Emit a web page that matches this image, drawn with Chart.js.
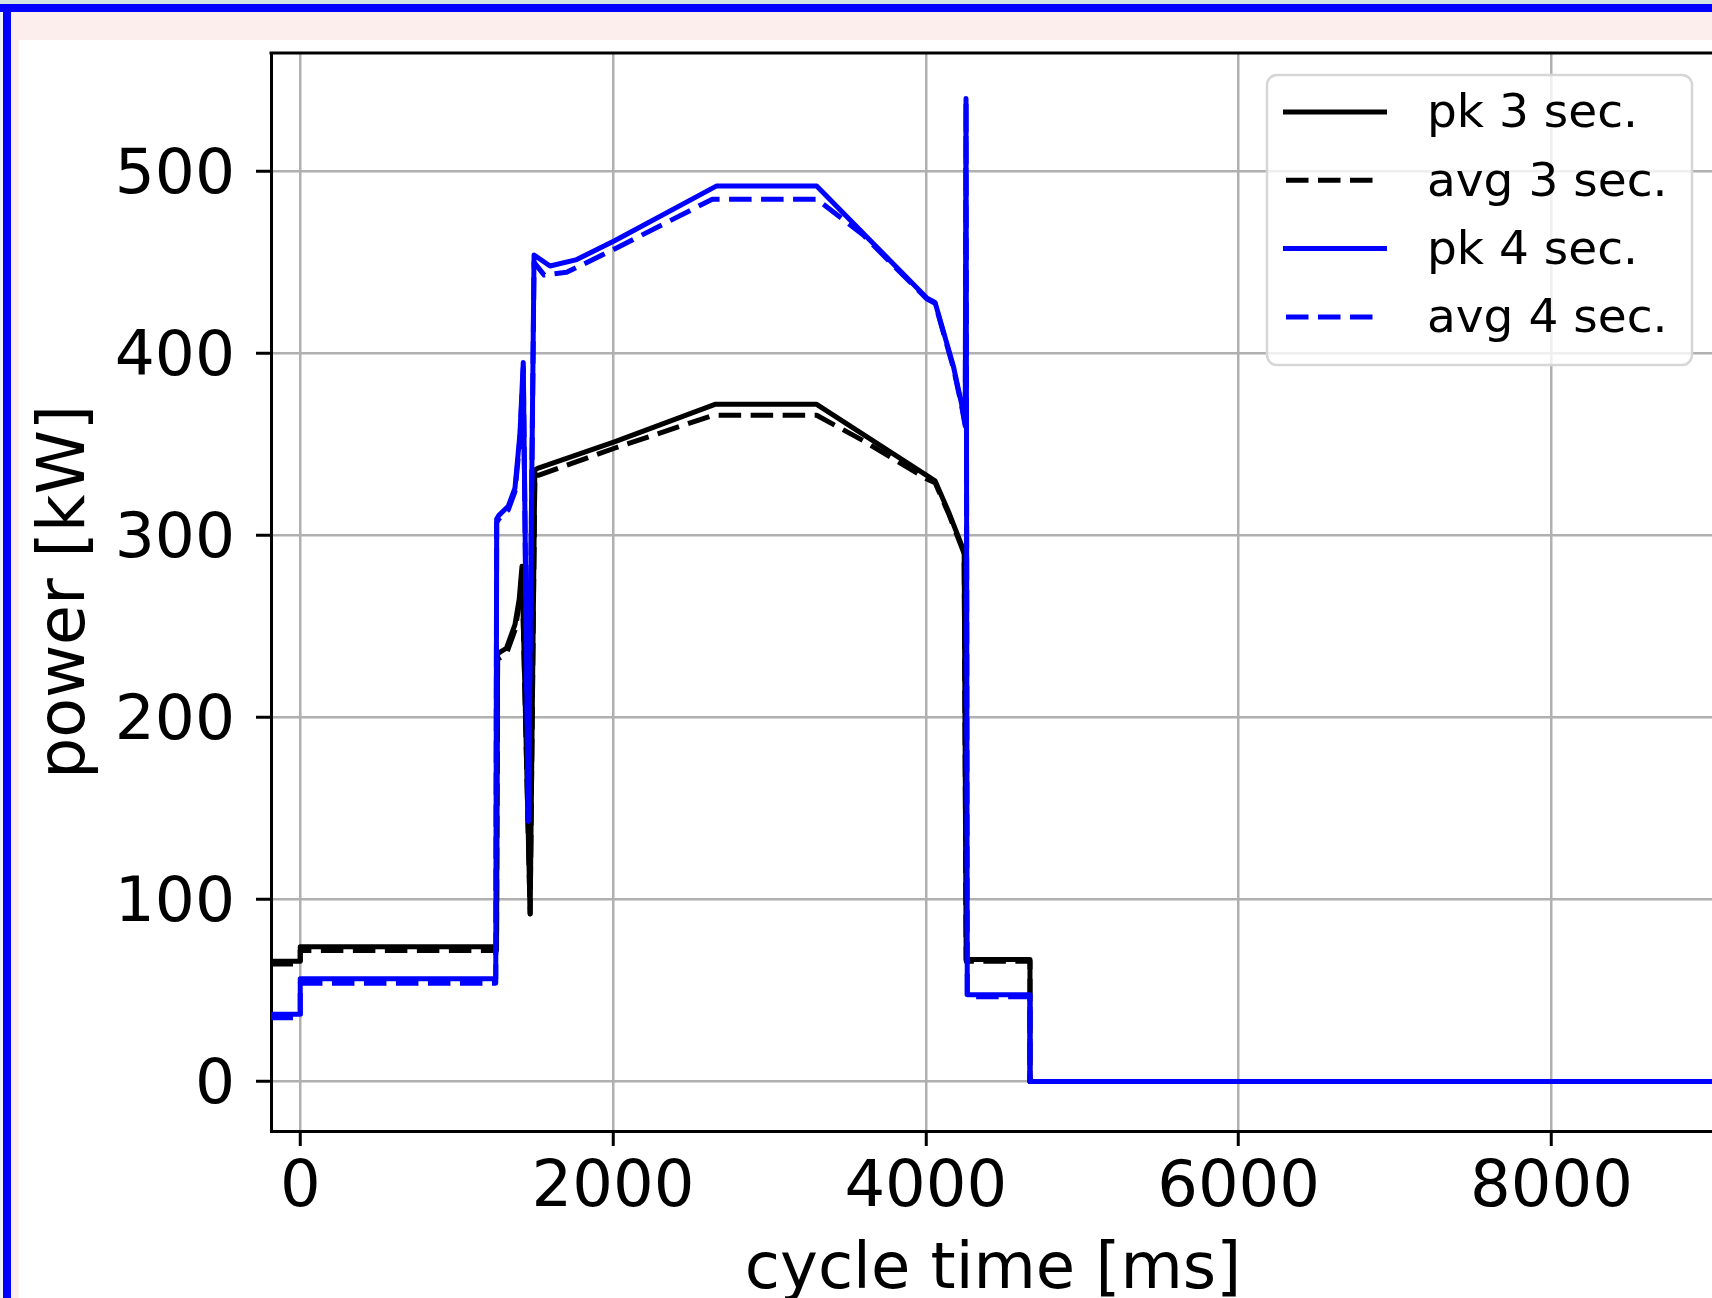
<!DOCTYPE html>
<html>
<head>
<meta charset="utf-8">
<script src="https://cdn.jsdelivr.net/npm/chart.js@4.4.0/dist/chart.umd.min.js"></script>
<style>
html,body{margin:0;padding:0;width:1712px;height:1298px;overflow:hidden;background:#eef3f4;}
#top{position:absolute;left:0;top:0;width:1712px;height:4px;background:#d3e4e5;}
#band{position:absolute;left:0;top:4px;width:1712px;height:8px;background:#0000ff;}
#lb{position:absolute;left:3px;top:4px;width:8px;height:1294px;background:#0000ff;}
#pink{position:absolute;left:11px;top:12px;width:1701px;height:1286px;background:#fdeeee;}
#wrap{position:absolute;left:19px;top:40px;width:1693px;height:1258px;overflow:hidden;background:#ffffff;}
canvas{display:block;}
</style>
</head>
<body>
<div id="top"></div>
<div id="band"></div>
<div id="pink"></div>
<div id="lb"></div>
<div id="wrap"><canvas id="c" width="1700" height="1300"></canvas></div>
<script>
// ---- data ----
const xTicks = [0, 2000, 4000, 6000, 8000];
const yTicks = [0, 100, 200, 300, 400, 500];

const seriesLabels = ['pk 3 sec.', 'avg 3 sec.', 'pk 4 sec.', 'avg 4 sec.'];

const pk3T  = [-190, 0, 0, 1255, 1262, 1318, 1373, 1400, 1418, 1470, 1500, 1522, 2013, 2652, 3302, 4005, 4059, 4150, 4245, 4258, 4666, 4666, 9600];
const pk3P  = [66, 66, 74, 74, 235, 238, 251, 265, 283, 92, 336, 337, 351.5, 372, 372, 333, 330, 312, 291, 67, 67, 0, 0];

const avg3T = [-190, 0, 0, 1255, 1262, 1318, 1373, 1400, 1418, 1470, 1500, 1522, 2013, 2641, 3302, 3600, 4005, 4059, 4150, 4245, 4258, 4666, 4666, 9600];
const avg3P = [64.5, 64.5, 72, 72, 232, 235, 248, 262, 280, 92, 333, 333, 348, 366, 366, 352, 331, 329, 311, 290, 66, 66, 0, 0];

const pk4T  = [-190, 0, 0, 1250, 1256, 1270, 1330, 1373, 1405, 1426, 1458, 1495, 1597, 1768, 2013, 2663, 3302, 4005, 4059, 4176, 4229, 4252, 4257, 4265, 4666, 4666, 9600];
const pk4P  = [37, 37, 56.4, 56.4, 309, 311, 316, 326, 356, 395, 143, 454, 448, 451.5, 462, 492, 492, 430.5, 428, 393, 372, 361, 540, 47.6, 47.6, 0, 0];

const avg4T = [-190, 0, 0, 1250, 1256, 1270, 1330, 1373, 1405, 1426, 1458, 1495, 1560, 1703, 2013, 2635, 3302, 3600, 4005, 4059, 4176, 4229, 4252, 4257, 4265, 4666, 4666, 9600];
const avg4P = [35, 35, 54, 54, 307, 309, 314, 324, 353, 392, 143, 450, 443, 444.5, 457.5, 484.7, 484.7, 465, 430, 427.5, 392, 371, 360, 538, 46.5, 46.5, 0, 0];

// ---- chart ----
const FONT = "'DejaVu Sans', 'Liberation Sans', sans-serif";
const DASH = [22.5, 9.5];
const LW = 5;
const pts = (T, P) => T.map((t, i) => ({x: t, y: P[i]}));

function ds(label, T, P, color, dashed, order) {
  return {
    label, data: pts(T, P), borderColor: color, backgroundColor: color,
    borderWidth: LW, borderDash: dashed ? DASH : [], pointRadius: 0,
    fill: false, tension: 0, order, borderJoinStyle: 'round', borderCapStyle: 'butt'
  };
}

const framePlugin = {
  id: 'frameAndLegend',
  afterDraw(chart) {
    const {ctx, chartArea} = chart;
    ctx.save();
    // top spine
    ctx.strokeStyle = '#000';
    ctx.lineWidth = 3;
    ctx.beginPath();
    ctx.moveTo(chartArea.left - 1.5, chartArea.top);
    ctx.lineTo(chartArea.right + 2, chartArea.top);
    ctx.stroke();

    // legend (upper right)
    const w = 425, h = 290;
    const bx = chartArea.right - 23 - w;
    const by = chartArea.top + 22;
    ctx.beginPath();
    ctx.roundRect(bx, by, w, h, 10);
    ctx.fillStyle = 'rgba(255,255,255,0.8)';
    ctx.fill();
    ctx.lineWidth = 2.5;
    ctx.strokeStyle = '#d6d6d6';
    ctx.stroke();

    ctx.font = '47px ' + FONT;
    ctx.textBaseline = 'middle';
    ctx.textAlign = 'left';
    chart.data.datasets.forEach((d, i) => {
      const y = by + 37 + i * 68.3;
      ctx.strokeStyle = d.borderColor;
      ctx.lineWidth = LW;
      ctx.beginPath();
      if (d.borderDash && d.borderDash.length) {
        ctx.setLineDash(DASH);
        ctx.moveTo(bx + 19, y);
        ctx.lineTo(bx + 106, y);
      } else {
        ctx.setLineDash([]);
        ctx.moveTo(bx + 16, y);
        ctx.lineTo(bx + 120, y);
      }
      ctx.stroke();
      ctx.setLineDash([]);
      ctx.fillStyle = '#000';
      ctx.fillText(d.label, bx + 160, y + 3);
    });
    ctx.restore();
  }
};

new Chart(document.getElementById('c'), {
  type: 'line',
  data: {
    datasets: [
      ds(seriesLabels[0], pk3T, pk3P, '#000000', false, 4),
      ds(seriesLabels[1], avg3T, avg3P, '#000000', true, 3),
      ds(seriesLabels[2], pk4T, pk4P, '#0000ff', false, 2),
      ds(seriesLabels[3], avg4T, avg4P, '#0000ff', true, 1)
    ]
  },
  options: {
    responsive: false,
    animation: false,
    events: [],
    layout: {padding: {left: 0, top: 13, right: 4, bottom: 29}},
    plugins: {legend: {display: false}, tooltip: {enabled: false}, title: {display: false}},
    scales: {
      x: {
        type: 'linear',
        min: -187, max: 9046,
        afterBuildTicks: s => { s.ticks = xTicks.map(v => ({value: v})); },
        afterFit: s => { s.height = 180; s.paddingLeft = 0; s.paddingRight = 0; },
        grid: {color: '#b0b0b0', lineWidth: 2.5, tickColor: '#000', tickWidth: 3, tickLength: 15, drawTicks: true},
        border: {display: true, color: '#000', width: 3},
        ticks: {color: '#000', font: {family: FONT, size: 64}, padding: 5, maxRotation: 0, autoSkip: false,
                callback: v => String(v)},
        title: {display: true, text: 'cycle time [ms]', color: '#000', font: {family: FONT, size: 64},
                padding: {top: 0, bottom: 1}}
      },
      y: {
        type: 'linear',
        min: -27.2, max: 565,
        afterBuildTicks: s => { s.ticks = yTicks.map(v => ({value: v})); },
        afterFit: s => { s.width = 252; s.paddingTop = 0; s.paddingBottom = 0; },
        grid: {color: '#b0b0b0', lineWidth: 2.5, tickColor: '#000', tickWidth: 3, tickLength: 15, drawTicks: true},
        border: {display: true, color: '#000', width: 3},
        ticks: {color: '#000', font: {family: FONT, size: 63}, padding: 21, labelOffset: 5, autoSkip: false,
                callback: v => String(v)},
        title: {display: true, text: 'power [kW]', color: '#000', font: {family: FONT, size: 65},
                padding: {top: 9, bottom: 0}}
      }
    }
  },
  plugins: [framePlugin]
});
</script>
</body>
</html>
